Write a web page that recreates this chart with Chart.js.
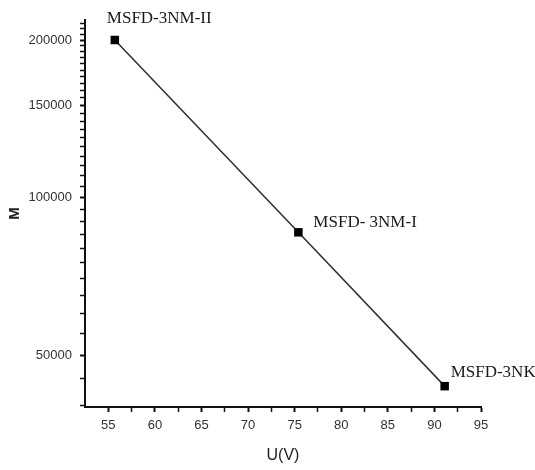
<!DOCTYPE html>
<html>
<head>
<meta charset="utf-8">
<script src="https://cdn.jsdelivr.net/npm/chart.js@4/dist/chart.umd.min.js"></script>
<style>
  html, body { margin: 0; padding: 0; background: #fff; }
  #wrap { width: 535px; height: 470px; }
</style>
</head>
<body>
<div id="wrap"><canvas id="chart" width="535" height="470"></canvas></div>
<script>
'use strict'

// sample names, voltage U (V) and M
var pointNames = ['MSFD-3NM-II', 'MSFD- 3NM-I', 'MSFD-3NK'];
var voltage = [55.7, 75.4, 91.1];
var mValues = [200000, 85800, 43600];

var xTickLabels = [55, 60, 65, 70, 75, 80, 85, 90, 95];
var yTickLabels = [50000, 100000, 150000, 200000];

// where each name sits relative to its point (px)
var labelOffsets = [[-8, -21], [15, -10], [6, -14]];

var points = [];
for (var i = 0; i < voltage.length; i++) {
  points.push({x: voltage[i], y: mValues[i]});
}

var pointLabels = {
  id: 'pointLabels',
  afterDatasetsDraw: function(chart) {
    var ctx = chart.ctx;
    var meta = chart.getDatasetMeta(0);
    ctx.save();
    ctx.font = '17px "Liberation Serif", "Times New Roman", serif';
    ctx.fillStyle = '#1a1a1a';
    ctx.textBaseline = 'middle';
    ctx.textAlign = 'left';
    for (var i = 0; i < meta.data.length; i++) {
      var p = meta.data[i];
      ctx.fillText(pointNames[i], p.x + labelOffsets[i][0], p.y + labelOffsets[i][1]);
    }
    ctx.restore();
  }
};

var ctx = document.getElementById('chart').getContext('2d');

var chart = new Chart(ctx, {
  type: 'scatter',
  data: {
    datasets: [{
      data: points,
      showLine: true,
      borderColor: '#333',
      borderWidth: 1.6,
      pointStyle: 'rect',
      pointRadius: 6,
      pointBackgroundColor: '#000',
      pointBorderColor: '#000',
      pointBorderWidth: 0
    }]
  },
  options: {
    responsive: false,
    animation: false,
    layout: {
      padding: {left: 0, right: 54, top: 20, bottom: 0}
    },
    plugins: {
      legend: {display: false},
      tooltip: {enabled: false}
    },
    scales: {
      x: {
        type: 'linear',
        min: 52.5,
        max: 95,
        afterBuildTicks: function(scale) {
          var t = [];
          for (var v = 55; v <= 95; v += 2.5) t.push({value: v});
          scale.ticks = t;
        },
        afterFit: function(scale) { scale.height = 63; },
        border: {display: true, color: '#111', width: 2},
        grid: {
          drawOnChartArea: false,
          drawTicks: true,
          tickLength: 5,
          tickColor: '#111',
          tickWidth: function(c) { return xTickLabels.indexOf(c.tick.value) >= 0 ? 2 : 1.5; }
        },
        ticks: {
          autoSkip: false,
          maxRotation: 0,
          padding: 6,
          color: '#333',
          font: {family: '"Liberation Sans", Arial, sans-serif', size: 13},
          callback: function(value) {
            return xTickLabels.indexOf(value) >= 0 ? String(value) : '';
          }
        },
        title: {
          display: true,
          text: 'U(V)',
          color: '#222',
          padding: {top: 0, bottom: 5},
          font: {family: '"Liberation Sans", Arial, sans-serif', size: 16}
        }
      },
      y: {
        type: 'logarithmic',
        min: 39780,
        max: 218400,
        afterBuildTicks: function(scale) {
          var t = [];
          for (var v = 40000; v <= 215000; v += 5000) t.push({value: v});
          scale.ticks = t;
        },
        afterFit: function(scale) { scale.width = 85; },
        border: {display: true, color: '#111', width: 2},
        grid: {
          drawOnChartArea: false,
          drawTicks: true,
          tickLength: 5,
          tickColor: '#111',
          tickWidth: function(c) { return yTickLabels.indexOf(c.tick.value) >= 0 ? 2 : 1.5; }
        },
        ticks: {
          autoSkip: false,
          padding: 8,
          color: '#333',
          font: {family: '"Liberation Sans", Arial, sans-serif', size: 13},
          callback: function(value) {
            return yTickLabels.indexOf(value) >= 0 ? String(value) : '';
          }
        },
        title: {
          display: true,
          text: 'M',
          color: '#222',
          padding: {top: 6, bottom: 0},
          font: {family: '"Liberation Sans", Arial, sans-serif', size: 15, weight: 'bold'}
        }
      }
    }
  },
  plugins: [pointLabels]
});
</script>
</body>
</html>
